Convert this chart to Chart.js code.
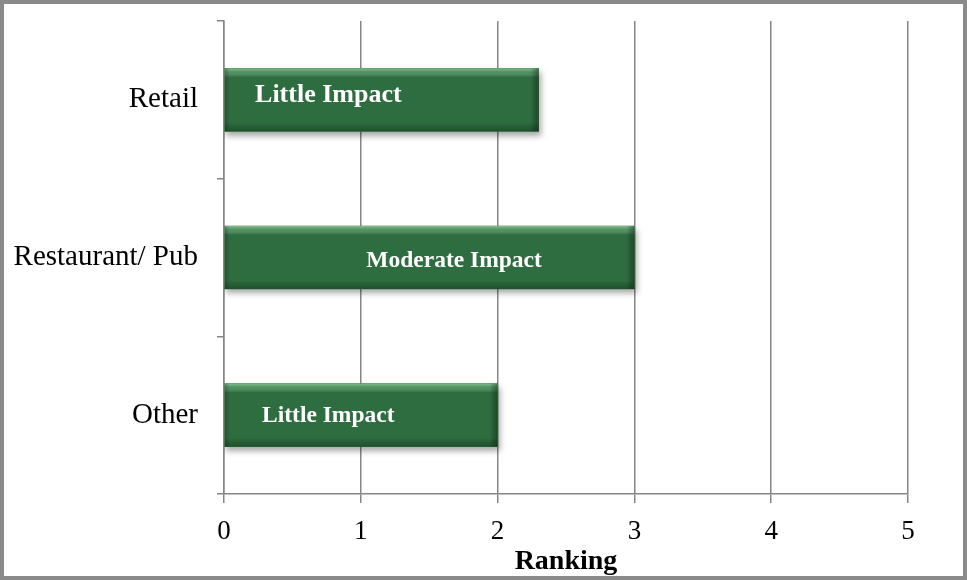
<!DOCTYPE html>
<html>
<head>
<meta charset="utf-8">
<script src="https://cdn.jsdelivr.net/npm/chart.js@4/dist/chart.umd.min.js"></script>
<style>
    body { margin: 0; background: #fff; }
    #wrap { width: 967px; height: 580px; box-sizing: border-box; border: 4px solid #8a8a8a; background: #fff; }
    canvas { display: block; }
</style>
</head>
<body>
<div id="wrap"><canvas id="myChart" width="959" height="572"></canvas></div>
<script>
var categories = ["Retail", "Restaurant/ Pub", "Other"];
var rankings = [2.3, 3, 2];
var impactLabels = ["Little Impact", "Moderate Impact", "Little Impact"];
var xTicks = [0, 1, 2, 3, 4, 5];

var serif = "'Liberation Serif', 'Times New Roman', serif";
var gridGray = "#868686";

// bevel + shadow look of the bars
var bevelPlugin = {
    id: "bevel",
    beforeDatasetsDraw: function (chart) {
        var ctx = chart.ctx;
        ctx.save();
        ctx.shadowColor = "rgba(0,0,0,0.35)";
        ctx.shadowBlur = 6;
        ctx.shadowOffsetX = 2;
        ctx.shadowOffsetY = 4;
    },
    afterDatasetsDraw: function (chart) {
        var ctx = chart.ctx;
        ctx.restore();
        var meta = chart.getDatasetMeta(0);
        meta.data.forEach(function (bar) {
            var left = Math.min(bar.x, bar.base), right = Math.max(bar.x, bar.base);
            var top = bar.y - bar.height / 2, bottom = bar.y + bar.height / 2;
            var g = ctx.createLinearGradient(0, top, 0, bottom);
            g.addColorStop(0, "rgba(160,220,170,0.75)");
            g.addColorStop(0.06, "rgba(120,190,135,0.45)");
            g.addColorStop(0.14, "rgba(255,255,255,0)");
            g.addColorStop(0.86, "rgba(0,0,0,0)");
            g.addColorStop(1, "rgba(0,30,10,0.35)");
            ctx.fillStyle = g;
            ctx.fillRect(left, top, right - left, bottom - top);
            var h = ctx.createLinearGradient(right - 8, 0, right, 0);
            h.addColorStop(0, "rgba(0,0,0,0)");
            h.addColorStop(1, "rgba(0,25,5,0.4)");
            ctx.fillStyle = h;
            ctx.fillRect(right - 8, top, 8, bottom - top);
            var l = ctx.createLinearGradient(left, 0, left + 5, 0);
            l.addColorStop(0, "rgba(0,25,5,0.25)");
            l.addColorStop(1, "rgba(0,0,0,0)");
            ctx.fillStyle = l;
            ctx.fillRect(left, top, 5, bottom - top);
        });
    }
};

// text written inside the bars
var barTextPlugin = {
    id: "barText",
    afterDatasetsDraw: function (chart, args, opts) {
        var ctx = chart.ctx;
        var xScale = chart.scales.x;
        var meta = chart.getDatasetMeta(0);
        ctx.save();
        ctx.fillStyle = "#ffffff";
        ctx.textAlign = "left";
        ctx.textBaseline = "alphabetic";
        meta.data.forEach(function (bar, i) {
            ctx.font = "bold " + opts.sizes[i] + "px " + serif;
            ctx.fillText(impactLabels[i], xScale.getPixelForValue(opts.start[i]), bar.y + opts.dy[i]);
        });
        ctx.restore();
    }
};

var ctx = document.getElementById("myChart").getContext("2d");
var myChart = new Chart(ctx, {
    type: "bar",
    data: {
        labels: categories,
        datasets: [{
            label: "Ranking",
            data: rankings,
            backgroundColor: "#2e6d3f",
            borderWidth: 0,
            barThickness: 63
        }]
    },
    options: {
        indexAxis: "y",
        responsive: false,
        animation: false,
        layout: { padding: { left: 0, right: 55, top: 17, bottom: 0 } },
        plugins: {
            legend: { display: false },
            tooltip: { enabled: false },
            barText: { sizes: [26, 23.5, 23.5], start: [0.227, 1.04, 0.278], dy: [2, 9.5, 7] }
        },
        scales: {
            x: {
                min: 0,
                max: 5,
                afterBuildTicks: function (scale) {
                    scale.ticks = xTicks.map(function (v) { return { value: v }; });
                },
                afterFit: function (scale) {
                    scale.height = 82;
                    scale.paddingLeft = 0;
                    scale.paddingRight = 0;
                },
                grid: { color: gridGray, lineWidth: 1.5, tickLength: 9, drawTicks: true },
                border: { display: true, color: gridGray, width: 1.5 },
                ticks: { color: "#000", padding: 13, font: { family: serif, size: 27 } },
                title: {
                    display: true,
                    text: "Ranking",
                    color: "#000",
                    padding: { top: 0, bottom: -3 },
                    font: { family: serif, size: 28, weight: "bold" }
                }
            },
            y: {
                offset: true,
                afterFit: function (scale) {
                    scale.width = 220;
                    scale.paddingTop = 0;
                    scale.paddingBottom = 0;
                },
                grid: { display: true, drawOnChartArea: false, color: gridGray, lineWidth: 1.5, tickLength: 7, offset: true },
                border: { display: true, color: gridGray, width: 1.5 },
                ticks: { color: "#000", padding: 19, font: { family: serif, size: 29 } }
            }
        }
    },
    plugins: [bevelPlugin, barTextPlugin]
});
</script>
</body>
</html>
